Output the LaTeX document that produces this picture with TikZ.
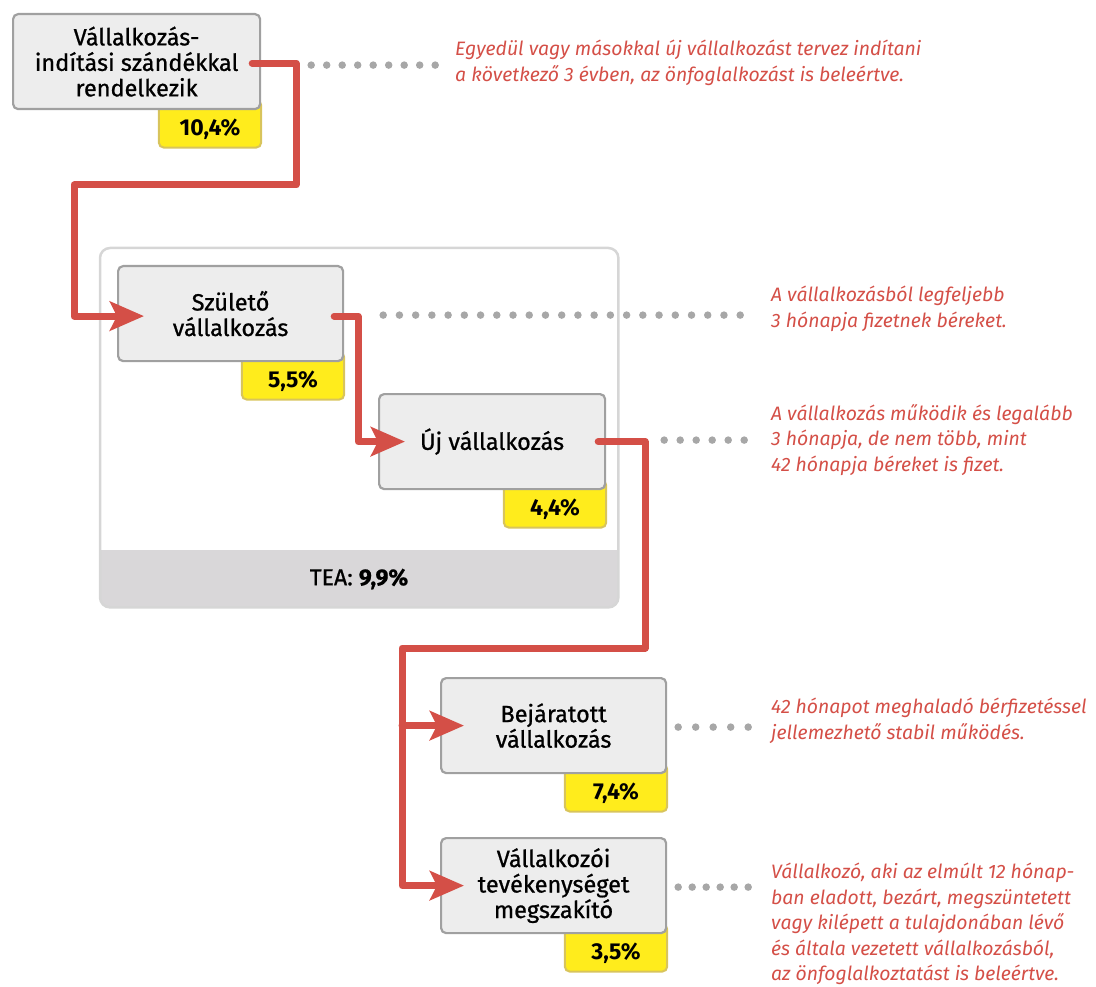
\documentclass[tikz,border=0pt]{standalone}
\usepackage{fontspec}
\setmainfont{Fira Sans}
\newfontfamily\medfont{Fira Sans}[FakeBold=0.8]
\usetikzlibrary{arrows.meta,backgrounds}
\definecolor{tred}{HTML}{D44F47}
\definecolor{boxfill}{HTML}{EDEDED}
\definecolor{boxline}{HTML}{A0A0A0}
\definecolor{tagfill}{HTML}{FFEC1C}
\definecolor{tagline}{HTML}{D8C45C}
\definecolor{frameline}{HTML}{D6D6D6}
\definecolor{bandfill}{HTML}{D9D7D9}
\definecolor{dotgray}{HTML}{A7A7A7}
\begin{document}
\begin{tikzpicture}[x=1pt,y=-1pt,
  stagebox/.style={draw=boxline,line width=2.2pt,fill=boxfill,rounded corners=5pt,
    minimum height=95pt,align=center,inner sep=0pt,anchor=north west,
    font=\medfont\fontsize{23.5}{25.5}\selectfont},
  tagnode/.style={anchor=north east,minimum width=102pt,minimum height=37pt,inner sep=0pt,
    font=\bfseries\fontsize{23}{24}\selectfont},
  tagshape/.style={draw=tagline,fill=tagfill,line width=2pt,rounded corners=5pt},
  desc/.style={anchor=west,align=left,text=tred,inner sep=0pt,
    font=\itshape\fontsize{19.4}{25.5}\selectfont},
  flow/.style={draw=tred,line width=7pt,line cap=round,line join=round,
    -{Stealth[length=34pt,width=29pt,inset=7pt]}},
  dotline/.style={draw=dotgray,line width=7.5pt,line cap=round},
]
\useasboundingbox (0,0) rectangle (1096,987);

% TEA frame
\node[minimum width=518pt,minimum height=359pt,anchor=north west,inner sep=0pt] (tea) at (100,248) {};
\coordinate (bandtop) at (100,550);
\begin{scope}
  \clip[rounded corners=10pt] (tea.north west) rectangle (tea.south east);
  \fill[bandfill] (bandtop) rectangle (tea.south east);
\end{scope}
\draw[frameline,line width=2.5pt,rounded corners=10pt] (tea.north west) rectangle (tea.south east);
\node[font=\medfont\fontsize{23}{25}\selectfont] (tealbl) at (359,579) {TEA: {\bfseries 9,9\%}};

% stage boxes
\node[stagebox,minimum width=247pt] (b1) at (12,13) {Vállalkozás-\\indítási szándékkal\\rendelkezik};
\node[stagebox,minimum width=225pt] (b2) at (117,265) {Születő\\vállalkozás};
\node[stagebox,minimum width=226pt] (b3) at (378,393) {Új vállalkozás};
\node[stagebox,minimum width=225pt] (b4) at (440,677) {Bejáratott\\vállalkozás};
\node[stagebox,minimum width=225pt] (b5) at (440,837) {Vállalkozói\\tevékenységet\\megszakító};

% percentage tags
\node[tagnode] (t1) at (b1.south east) {10,4\%};
\node[tagnode] (t2) at (b2.south east) {5,5\%};
\node[tagnode] (t3) at (b3.south east) {4,4\%};
\node[tagnode] (t4) at (b4.south east) {7,4\%};
\node[tagnode] (t5) at (b5.south east) {3,5\%};
\begin{scope}[on background layer]
  \foreach \t in {t1,t2,t3,t4,t5}
    \draw[tagshape] ([yshift=10pt]\t.north west) rectangle (\t.south east);
\end{scope}

% descriptions
\node[desc] (d1) at (455,63) {Egyedül vagy másokkal új vállalkozást tervez indítani\\a következő 3 évben, az önfoglalkozást is beleértve.};
\node[desc] (d2) at (771,309) {A vállalkozásból legfeljebb\\3 hónapja fizetnek béreket.};
\node[desc] (d3) at (771,440) {A vállalkozás működik és legalább\\3 hónapja, de nem több, mint\\42 hónapja béreket is fizet.};
\node[desc] (d4) at (771,721) {42 hónapot meghaladó bérfizetéssel\\jellemezhető stabil működés.};
\node[desc] (d5) at (771,924) {Vállalkozó, aki az elmúlt 12 hónap-\\ban eladott, bezárt, megszüntetett\\vagy kilépett a tulajdonában lévő\\és általa vezetett vállalkozásból,\\az önfoglalkoztatást is beleértve.};

% dotted leaders
\draw[dotline,dash pattern=on 0pt off 15.5pt] ([xshift=50pt,yshift=-3.5pt]b1.east) -- ++(124.2,0);
\draw[dotline,dash pattern=on 0pt off 16.227pt] ([xshift=39pt,yshift=-1.5pt]b2.east) -- ++(357.2,0);
\draw[dotline,dash pattern=on 0pt off 16pt] ([xshift=58pt,yshift=1.5pt]b3.east) -- ++(80.2,0);
\draw[dotline,dash pattern=on 0pt off 17.5pt] ([xshift=11pt,yshift=-1.5pt]b4.east) -- ++(70.2,0);
\draw[dotline,dash pattern=on 0pt off 14pt] ([xshift=11pt,yshift=-1.5pt]b5.east) -- ++(70.2,0);

% flow connectors
\coordinate (k1) at (296,185);
\coordinate (k2) at (74,185);
\coordinate (x358) at (358,0);
\coordinate (k4) at (645,648);
\coordinate (k5) at (402,648);
\coordinate (k3) at (b3.west -| x358);
\coordinate (k6) at (k5 |- b4.west);
\draw[flow] ([xshift=-9pt,yshift=-1.5pt]b1.east) -| (k1) -- (k2) |- ([xshift=27pt,yshift=-2.5pt]b2.west);
\draw[flow] ([xshift=-10pt,yshift=-2.5pt]b2.east) -| (k3) -- ([xshift=27pt]b3.west);
\draw[flow] ([xshift=-8pt]b3.east) -| (k4) -- (k5) |- ([xshift=24pt]b5.west);
\draw[flow] (k6) -- ([xshift=24pt]b4.west);
\end{tikzpicture}
\end{document}
